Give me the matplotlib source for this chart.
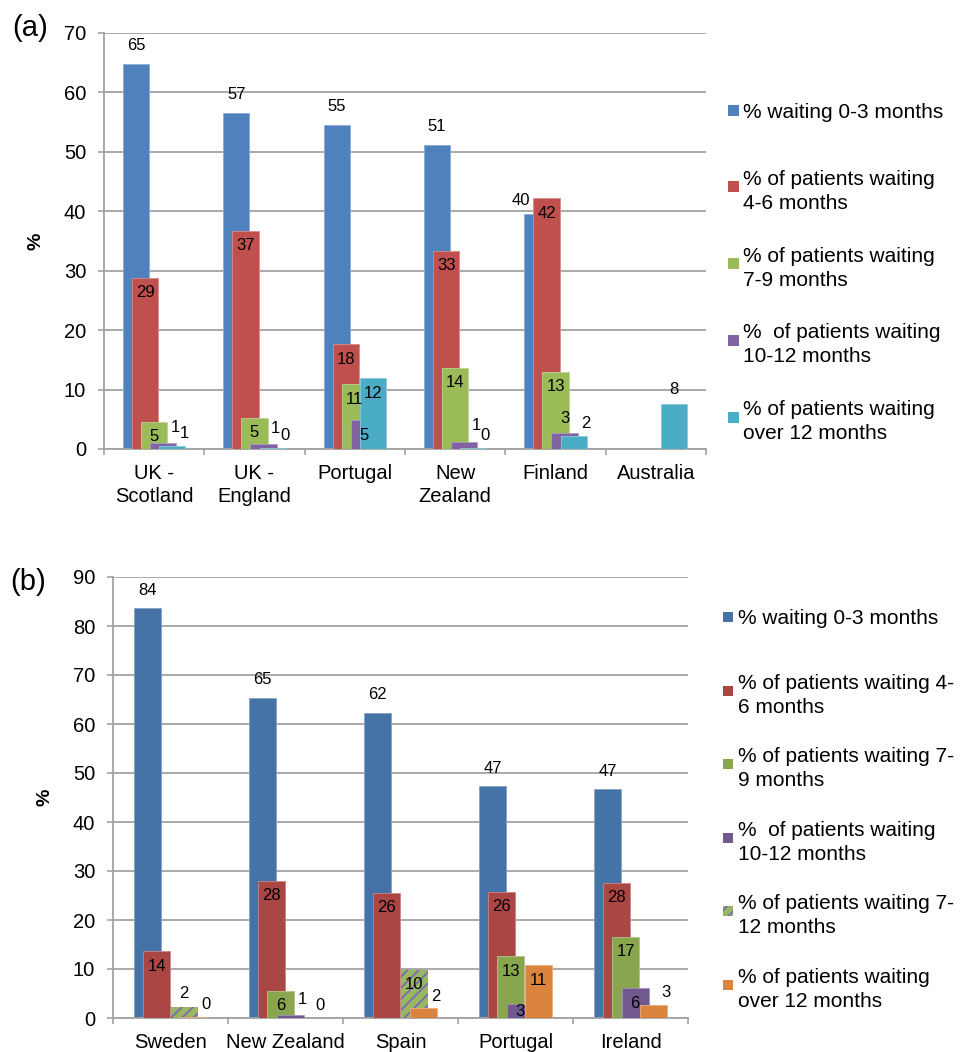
import math
import numpy as np
import matplotlib
matplotlib.use("Agg")
import matplotlib.pyplot as plt
from matplotlib.patches import Rectangle
from matplotlib.colors import to_rgb

plt.rcParams['font.family'] = ['Liberation Sans', 'DejaVu Sans']
plt.rcParams['hatch.linewidth'] = 1.2

nan = float('nan')

# ---------------- Panel (a) data ----------------
countries_a = ["UK -\nScotland", "UK -\nEngland", "Portugal", "New\nZealand", "Finland", "Australia"]
labels_a = ["% waiting 0-3 months",
            "% of patients waiting\n4-6 months",
            "% of patients waiting\n7-9 months",
            "%  of patients waiting\n10-12 months",
            "% of patients waiting\nover 12 months"]
wait_0_3_a = [64.8, 56.6, 54.6, 51.2, 39.6, nan]
wait_4_6_a = [28.8, 36.7, 17.6, 33.4, 42.2, nan]
wait_7_9_a = [4.6, 5.3, 10.9, 13.7, 13.0, nan]
wait_10_12_a = [1.0, 0.8, 4.8, 1.2, 2.7, nan]
wait_over12_a = [0.55, 0.2, 11.9, 0.2, 2.2, 7.6]
yticks_a = [0, 10, 20, 30, 40, 50, 60, 70]

# ---------------- Panel (b) data ----------------
countries_b = ["Sweden", "New Zealand", "Spain", "Portugal", "Ireland"]
labels_b = ["% waiting 0-3 months",
            "% of patients waiting 4-\n6 months",
            "% of patients waiting 7-\n9 months",
            "%  of patients waiting\n10-12 months",
            "% of patients waiting 7-\n12 months",
            "% of patients waiting\nover 12 months"]
wait_0_3_b = [83.6, 65.4, 62.3, 47.3, 46.7]
wait_4_6_b = [13.6, 28.0, 25.6, 25.8, 27.6]
wait_7_9_b = [nan, 5.6, nan, 12.6, 16.6]
wait_10_12_b = [nan, 0.6, nan, 2.9, 6.1]
wait_7_12_b = [2.2, nan, 9.8, nan, nan]
wait_over12_b = [0.3, 0.0, 2.0, 10.8, 2.7]
yticks_b = [0, 10, 20, 30, 40, 50, 60, 70, 80, 90]

# ---------------- styles ----------------
colors_a = ['#4F81BD', '#C0504D', '#9BBB59', '#8064A2', '#4BACC6']
hatch_a = [None] * 5
colors_b = ['#4572A7', '#AA4643', '#89A54E', '#71588F', '#97B860', '#DB843D']
hatch_b = [None, None, None, None, '///', None]
hatch_edge_b = '#7E62B8'

W, H = 961, 1052
fig = plt.figure(figsize=(W / 100, H / 100), dpi=100)
PX = 0.72  # points per pixel
GRID = '#a3a3a3'


def lighten(c, f=0.35):
    r, g, b = to_rgb(c)
    return (r + (1 - r) * f, g + (1 - g) * f, b + (1 - b) * f)


def fr(x0, y0, x1, y1):
    return [x0 / W, 1 - y1 / H, (x1 - x0) / W, (y1 - y0) / H]


def fmt(v):
    return str(int(math.floor(v + 0.5)))


def draw_panel(rect, cats, series, colors, hatches, width, step, ymax, yticks, exceptions):
    ax = fig.add_axes(rect)
    n = len(cats)
    k = len(series)
    x = np.arange(n)
    ax.set_xlim(-0.5, n - 0.5)
    ax.set_ylim(0, ymax)
    ax.set_yticks(yticks)
    ax.tick_params(axis='y', labelsize=14.5, length=6 * PX, width=1.2, color=GRID, pad=8.5)
    ax.set_xticks(x)
    ax.set_xticklabels(cats, fontsize=14.5, linespacing=1.27)
    ax.set_xticks(np.arange(-0.5, n, 1), minor=True)
    ax.tick_params(axis='x', which='major', length=0, pad=11)
    ax.tick_params(axis='x', which='minor', length=6 * PX, width=1.2, color=GRID)
    for s in ['top', 'right']:
        ax.spines[s].set_visible(False)
    for s in ['left', 'bottom']:
        ax.spines[s].set_color(GRID)
        ax.spines[s].set_linewidth(1.3)
    ax.yaxis.grid(True, color=GRID, lw=1.3)
    ax.set_axisbelow(True)
    ax.set_ylabel('%', fontsize=14, fontweight='bold', labelpad=14)

    offs = (np.arange(k) - (k - 1) / 2) * step
    for j, vals in enumerate(series):
        vals = np.array(vals, dtype=float)
        if hatches[j]:
            ax.bar(x + offs[j], vals, width, color=colors[j], edgecolor=hatch_edge_b,
                   hatch=hatches[j], linewidth=0, zorder=2 + j)
        else:
            ax.bar(x + offs[j], vals, width, color=colors[j],
                   edgecolor=lighten(colors[j]), linewidth=0.6, zorder=2 + j)

    fig.canvas.draw()
    px_per_unit = ax.transData.transform((0, 1))[1] - ax.transData.transform((0, 0))[1]

    for j, vals in enumerate(series):
        for i, v in enumerate(vals):
            if v != v:
                continue
            hpx = v * px_per_unit
            if j == 0:
                mode = 'out'
            else:
                mode = 'in' if hpx >= 20 else 'out'
            mode = exceptions.get((j, i), mode)
            dx = 0
            if mode == 'out':
                dy = 18 if j == 0 else 14
                if j > 0 and (v < 1.5 or (j == k - 1 and v < 5)):
                    dx = 12
                    dy = 16 if j < k - 1 else 12
                if j == 0 and len(series) > 1:
                    nxt = series[1][i]
                    if nxt == nxt and nxt > v:
                        dx = -17
                        dy = 13
            else:
                dy = -15 if hpx > 22 else -hpx / 2 - 1
            ax.annotate(fmt(v), (x[i] + offs[j], v), xytext=(dx * PX, dy * PX),
                        textcoords='offset points', ha='center', va='center',
                        fontsize=12, zorder=20, annotation_clip=False)
    return ax


def draw_legend(labels, colors, hatches, x_marker, msize, x_text, y0, dy):
    for j, lab in enumerate(labels):
        yc = y0 + j * dy
        rect = Rectangle((x_marker / W, 1 - (yc + msize / 2) / H), msize / W, msize / H,
                         transform=fig.transFigure, facecolor=colors[j],
                         edgecolor=hatch_edge_b if hatches[j] else 'none',
                         hatch=hatches[j], linewidth=0)
        fig.patches.append(rect)
        fig.text(x_text / W, 1 - yc / H, lab, fontsize=15, ha='left', va='center_baseline',
                 linespacing=1.33)


series_a = [wait_0_3_a, wait_4_6_a, wait_7_9_a, wait_10_12_a, wait_over12_a]
exc_a = {(4, 5): 'out'}
ax_a = draw_panel(fr(104, 33, 706, 449), countries_a, series_a, colors_a, hatch_a,
                  0.26, 0.09, 70, yticks_a, exc_a)

series_b = [wait_0_3_b, wait_4_6_b, wait_7_9_b, wait_10_12_b, wait_7_12_b, wait_over12_b]
exc_b = {(3, 3): 'in'}
ax_b = draw_panel(fr(113, 577, 688, 1018), countries_b, series_b, colors_b, hatch_b,
                  0.235, 0.08, 90, yticks_b, exc_b)

draw_legend(labels_a, colors_a, hatch_a, 728, 11, 743, 110, 76.8)
draw_legend(labels_b, colors_b, hatch_b, 723, 10, 738, 617, 73.6)

fig.text(12 / W, 1 - 28 / H, '(a)', fontsize=21, ha='left', va='center')
fig.text(10 / W, 1 - 582 / H, '(b)', fontsize=21, ha='left', va='center')

fig.savefig('out.png', dpi=100)
